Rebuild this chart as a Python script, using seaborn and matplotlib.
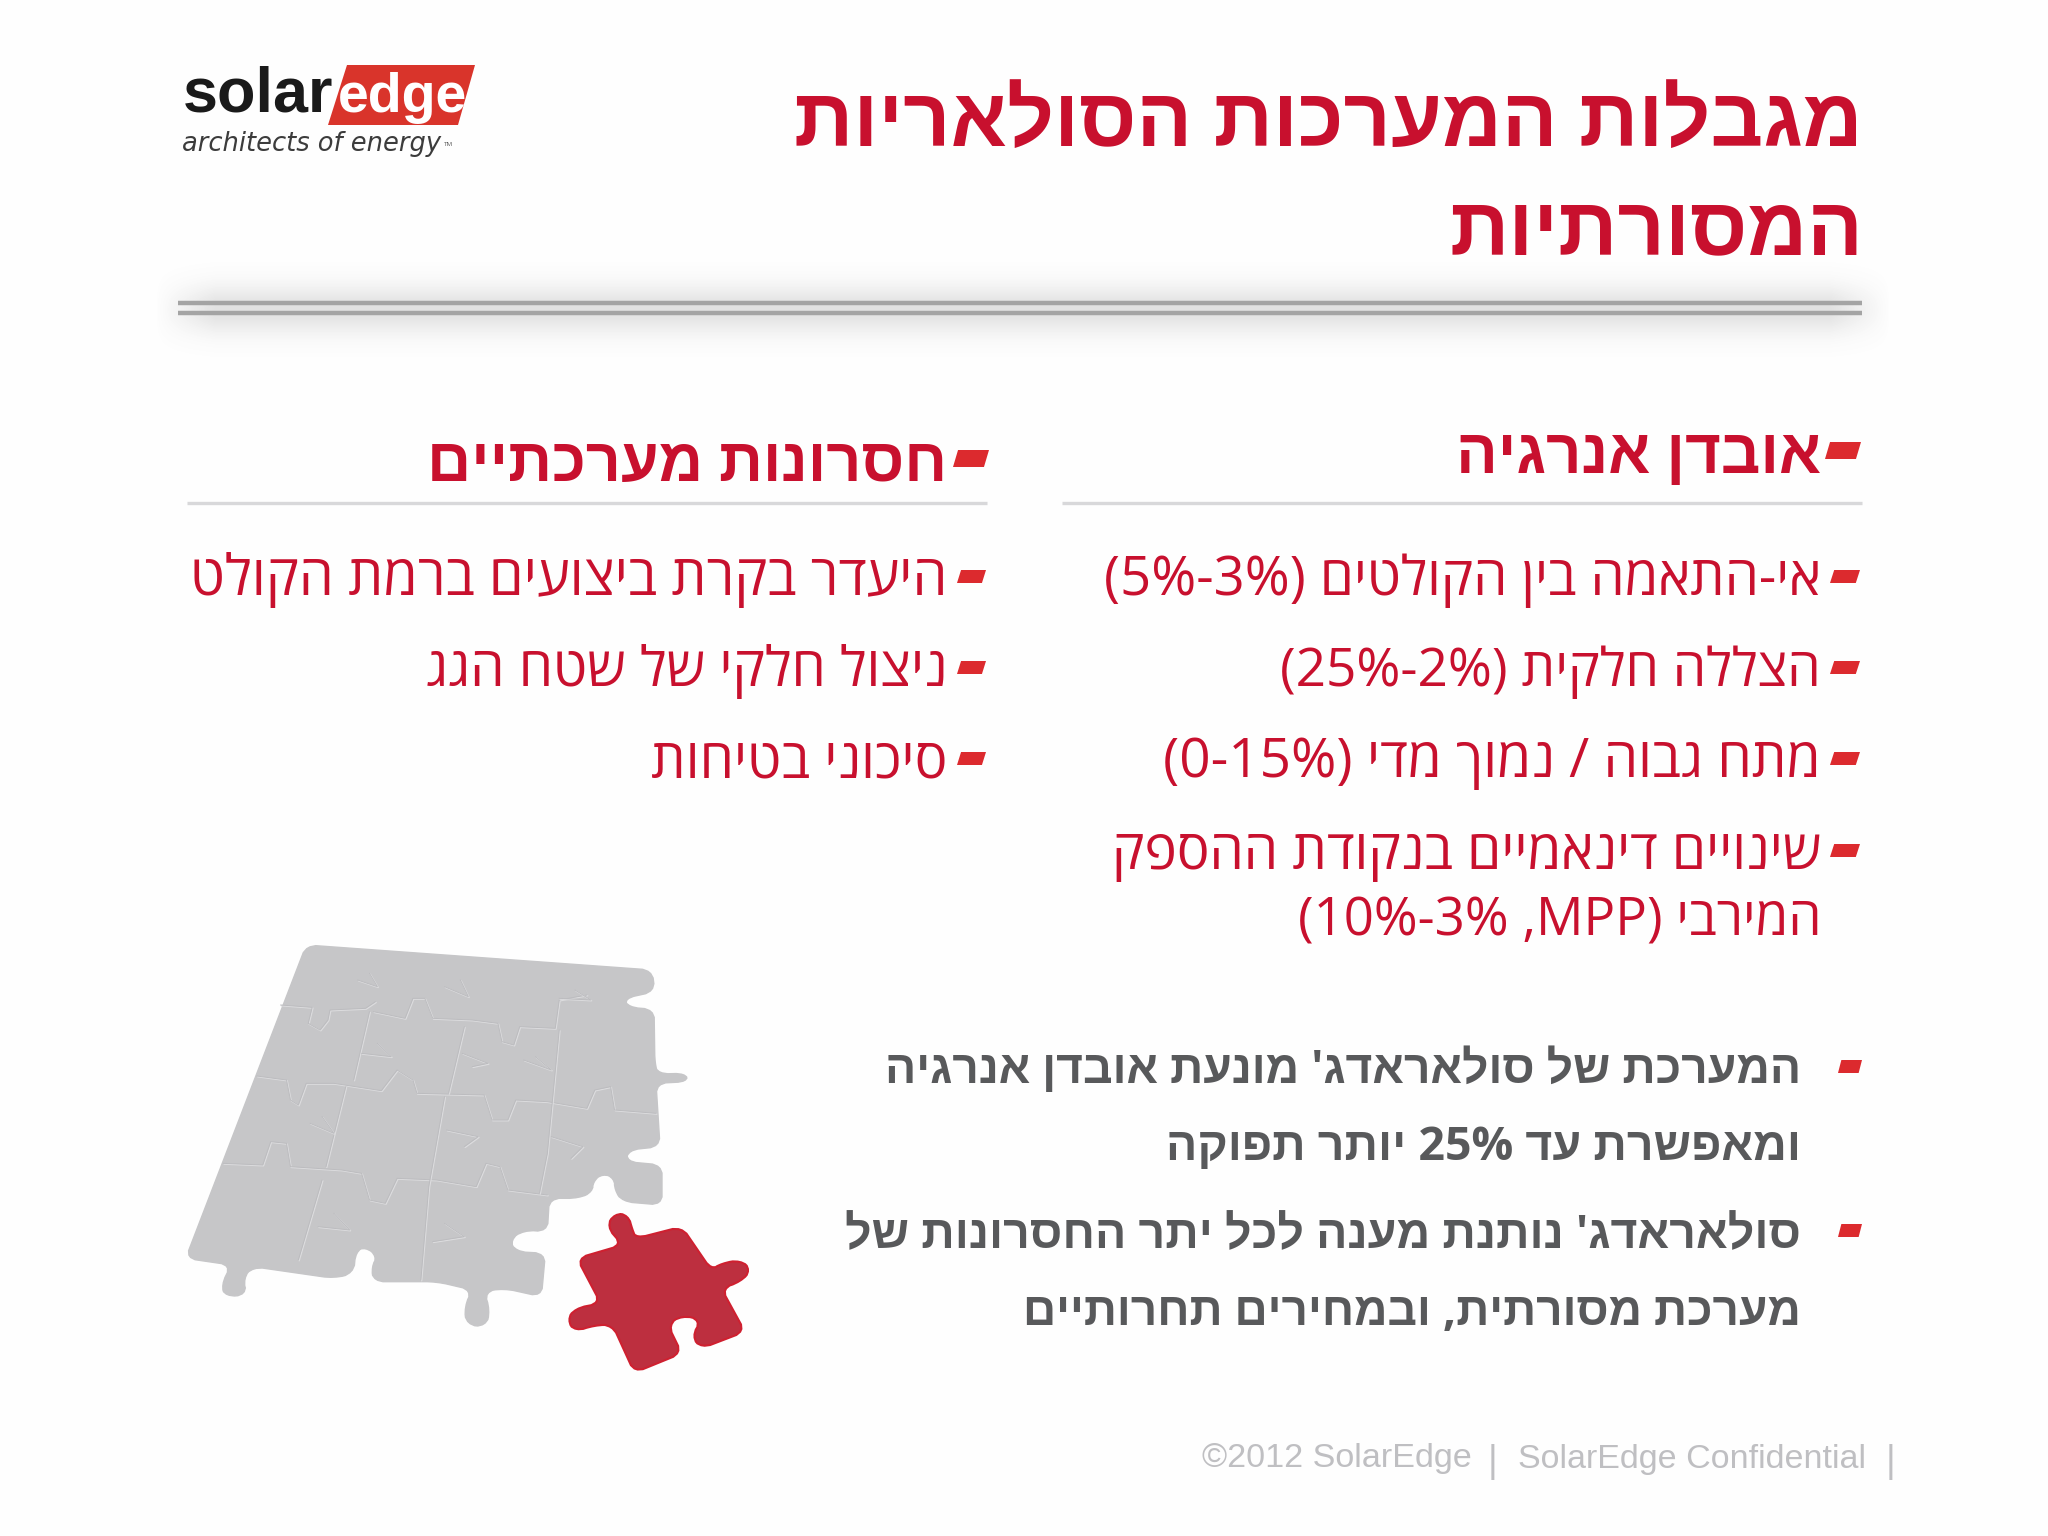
import re
import numpy as np
import pandas as pd
import seaborn as sns
import matplotlib
matplotlib.use("Agg")
import matplotlib.pyplot as plt
from matplotlib.patches import Polygon

sns.set_theme(style="white")
HEB = ["Open Sans", "Liberation Sans", "DejaVu Sans"]
plt.rcParams["font.family"] = HEB

RED = "#c8102e"
BULLET = "#dc2a2e"
GREY = "#58595b"

title_lines = ["מגבלות המערכות הסולאריות", "המסורתיות"]
right_header = "אובדן אנרגיה"
left_header = "חסרונות מערכתיים"
right_items = ["אי-התאמה בין הקולטים (5%-3%)", "הצללה חלקית (25%-2%)", "מתח גבוה / נמוך מדי (0-15%)",
               "שינויים דינאמיים בנקודת ההספק", "המירבי (MPP, 10%-3%)"]
left_items = ["היעדר בקרת ביצועים ברמת הקולט", "ניצול חלקי של שטח הגג", "סיכוני בטיחות"]
grey_items = ["המערכת של סולאראדג' מונעת אובדן אנרגיה", "ומאפשרת עד 25% יותר תפוקה",
              "סולאראדג' נותנת מענה לכל יתר החסרונות של", "מערכת מסורתית, ובמחירים תחרותיים"]
footer = ["©2012 SolarEdge", "|", "SolarEdge Confidential", "|"]

puzzle_grey = [(370,75),(1245,150),(1252,215),(1175,235),(1185,262),(1250,268),(1252,430),(1260,462),(1330,460),
    (1335,485),(1255,490),(1265,680),(1185,690),(1180,725),(1270,735),(1270,855),(1170,845),(1150,810),(1150,775),
    (1120,760),(1095,785),(1095,815),(1060,835),(985,835),(980,935),(920,930),(885,960),(900,995),(975,1000),
    (965,1130),(870,1105),(820,1115),(835,1170),(825,1220),(775,1215),(770,1160),(790,1110),(700,1085),(540,1085),
    (535,1040),(550,1010),(520,980),(495,995),(490,1060),(440,1075),(235,1040),(210,1075),(220,1125),(165,1130),
    (155,1095),(180,1035),(65,1015)]
puzzle_red = [(1320,920),(1395,1050),(1420,1030),(1470,1020),(1495,1050),(1470,1085),(1420,1105),(1480,1235),
    (1370,1285),(1345,1250),(1370,1200),(1320,1185),(1285,1215),(1320,1300),(1200,1358),(1145,1215),(1100,1215),
    (1050,1235),(1030,1200),(1050,1165),(1115,1150),(1055,1015),(1170,975),(1130,920),(1150,880),(1185,885),
    (1195,930),(1205,955)]
seams = [
    [(305,255),(385,262),(375,310),(405,330),(425,300),(430,270),(520,265),(545,245)],
    [(540,275),(620,295),(640,235),(670,235),(690,295),(790,300),(855,310),(865,365),(895,375),(910,320),(1000,325),(1010,240),(1080,225)],
    [(245,468),(320,480),(330,540),(350,555),(370,490),(440,490),(560,512),(600,450),(640,480),(650,520),(820,525),(840,600),(880,600),(900,540),(980,545),(1080,565),(1100,510),(1140,500),(1150,570),(1255,580)],
    [(160,730),(260,735),(280,665),(320,670),(330,740),(460,750),(510,760),(530,840),(570,850),(600,775),(700,780),(800,800),(825,730),(860,740),(880,810),(980,825)],
    [(530,275),(490,480)], [(770,320),(730,520)], [(1010,330),(980,700),(960,820)],
    [(470,500),(420,740)], [(720,530),(680,800),(660,1080)], [(410,780),(350,1020)],
    [(500,180),(550,200),(530,160)], [(720,200),(780,230),(760,180)], [(1010,235),(1090,240),(1050,210)],
    [(510,400),(585,410),(550,370)], [(765,400),(830,430),(790,440)], [(920,420),(990,450),(950,410)],
    [(380,610),(440,640),(410,590)], [(725,630),(805,650),(770,680)], [(990,650),(1070,680),(1040,715)],
    [(400,920),(480,930),(440,880)], [(690,965),(770,950),(720,910)],
]
energy_rule_x = [1062, 1862]
cost_rule_x = [187, 987]
title_rule_x = [178, 1862]
title_rule_y = [303, 313]


def visual(s):
    """Logical Hebrew to visual order: matplotlib has no bidi step."""
    parts = re.split(r"([0-9A-Za-z%]+(?:-[0-9A-Za-z%]+)*)", s)
    mirror = str.maketrans("()", ")(")
    out = []
    for p in reversed(parts):
        if re.fullmatch(r"[0-9A-Za-z%]+(?:-[0-9A-Za-z%]+)*", p or " "):
            out.append(p)
        else:
            out.append(p[::-1].translate(mirror))
    return "".join(out)


fig = plt.figure(figsize=(20.48, 15.36), dpi=100, facecolor="#fefefe")
ax = fig.add_axes([0, 0, 1, 1])
renderer = fig.canvas.get_renderer()


def fit(s, x0, x1, base, color, weight="normal", family=HEB, style="normal", z=5):
    t = ax.text(x1, base, s, ha="right", va="baseline", color=color, fontweight=weight,
                family=family, style=style, fontsize=40, zorder=z)
    w = t.get_window_extent(renderer).width
    t.set_fontsize(40 * (x1 - x0) / w)
    return t


def smooth(pts, cut=16.0, n=2):
    """Round corners by a fixed distance, so long edges keep their straight run."""
    p = np.array(pts, float)
    for k in range(n):
        q = np.roll(p, -1, axis=0)
        seg = np.linalg.norm(q - p, axis=1, keepdims=True)
        d = np.minimum(cut / (k + 1) / seg, 0.3)
        p = np.column_stack([p + (q - p) * d, q - (q - p) * d]).reshape(-1, 2)
    return p


def zoom_xy(p):
    p = np.asarray(p, float)
    return np.column_stack([160 + p[:, 0] / 2.53, 920 + p[:, 1] / 3])


def bullet(x0, x1, y0, y1):
    s = (x1 - x0) * 0.14
    ax.add_patch(Polygon([(x0 + s, y0), (x1, y0), (x1 - s, y1), (x0, y1)], closed=True, fc=BULLET, ec="none", zorder=5))


# shadow of the title rule
gy, gx = np.mgrid[262:360, 150:1895]
alpha = 0.2 * np.exp(-((gy - 309) / 24.0) ** 2) * np.clip((gx - 155) / 60, 0, 1) * np.clip((1890 - gx) / 60, 0, 1)
rgba = np.zeros(alpha.shape + (4,))
rgba[..., :3] = 0.45
rgba[..., 3] = alpha
ax.imshow(rgba, extent=(150, 1895, 360, 262), aspect="auto", zorder=1, interpolation="bilinear")

# rules
rules = pd.DataFrame({
    "x": title_rule_x * 2 + energy_rule_x + cost_rule_x,
    "y": [title_rule_y[0]] * 2 + [title_rule_y[1]] * 2 + [503] * 4,
    "rule": ["a"] * 2 + ["b"] * 2 + ["c"] * 2 + ["d"] * 2,
    "kind": ["title"] * 4 + ["head"] * 4,
})
sns.lineplot(data=rules[rules.kind == "title"], x="x", y="y", units="rule", estimator=None, color="#a4a4a4",
             lw=3.2, ax=ax, legend=False, zorder=3, solid_capstyle="butt")
sns.lineplot(data=rules[rules.kind == "head"], x="x", y="y", units="rule", estimator=None, color="#d8d8da",
             lw=2.4, ax=ax, legend=False, zorder=3, solid_capstyle="butt")

# title
fit(visual(title_lines[0]), 610 * 1.306, 1863, 146, RED, "bold")
fit(visual(title_lines[1]), 1110 * 1.306, 1863, 254, RED, "bold")

# column headers
fit(visual(right_header), 1456, 1821, 473, RED, "bold")
fit(visual(left_header), 428, 947, 481, RED, "bold")
bullet(1825, 1861, 442, 459)
bullet(953, 989, 450, 467)

# right column
r_spans = [845, 980, 891, 851, 993]
r_base = [595, 686, 777, 869, 936]
for s, x0, b in zip(right_items, r_spans, r_base):
    fit(visual(s), x0 * 1.306, 1821, b, RED)
for b in r_base[:4]:
    bullet(1830, 1860, b - 25, b - 12)

# left column
l_spans = [145, 326, 498]
for s, x0, b in zip(left_items, l_spans, r_base):
    fit(visual(s), x0 * 1.306, 947, b, RED)
    bullet(957, 986, b - 25, b - 12)

# grey block
g_spans = [677, 894, 649, 782]
g_base = [1083, 1160, 1248, 1325]
for s, x0, b in zip(grey_items, g_spans, g_base):
    fit(visual(s), x0 * 1.306, 1801, b, GREY, "bold")
bullet(1838, 1862, 1060, 1073)
bullet(1838, 1862, 1224, 1237)

# footer
FOOT = ["Liberation Sans Narrow", "Liberation Sans"]
fit(footer[0], 1202, 1472, 1467, "#bfbfc2", family=FOOT)
fit(footer[2], 1518, 1866, 1468, "#bfbfc2", family=FOOT)
for x in (1497, 1895):
    ax.text(x, 1472, "|", ha="right", va="baseline", color="#bfbfc2", fontsize=27, family=["Liberation Sans"])

# logo
LOGO = ["Liberation Sans"]
ax.add_patch(Polygon([(347, 65), (475, 65), (458, 125), (328, 125)], closed=True, fc="#d9342b", ec="none", zorder=4))
fit("solar", 183, 333, 112, "#1a1a1a", "bold", LOGO)
fit("edge", 338, 467, 112, "white", "bold", LOGO)
fit("architects of energy", 182, 441, 151, "#3c3c3c", family=["DejaVu Sans"], style="italic")
ax.text(453, 146, "TM", fontsize=4.5, ha="right", va="baseline", color="#555555")

# puzzle
ax.add_patch(Polygon(zoom_xy(smooth(puzzle_grey)), closed=True, fc="#c6c6c8", ec="#c6c6c8", lw=1, zorder=4))
ax.add_patch(Polygon(zoom_xy(smooth(puzzle_red)), closed=True, fc="#bd2f3f", ec="#cf2030", lw=1.5, zorder=4))
for i, seam in enumerate(seams):
    xy = zoom_xy(seam)
    sdf = pd.DataFrame({"x": xy[:, 0] + 0.8, "y": xy[:, 1] + 0.8})
    sns.lineplot(data=sdf, x="x", y="y", sort=False, estimator=None, color="#dcdcde", lw=1.0, ax=ax, legend=False, zorder=5)
    sdf2 = pd.DataFrame({"x": xy[:, 0], "y": xy[:, 1]})
    sns.lineplot(data=sdf2, x="x", y="y", sort=False, estimator=None, color="#bcbcbf", lw=0.7, ax=ax, legend=False, zorder=5)

ax.set_xlim(0, 2048)
ax.set_ylim(1536, 0)
ax.set_axis_off()
fig.savefig("out.png", dpi=100, facecolor=fig.get_facecolor())
